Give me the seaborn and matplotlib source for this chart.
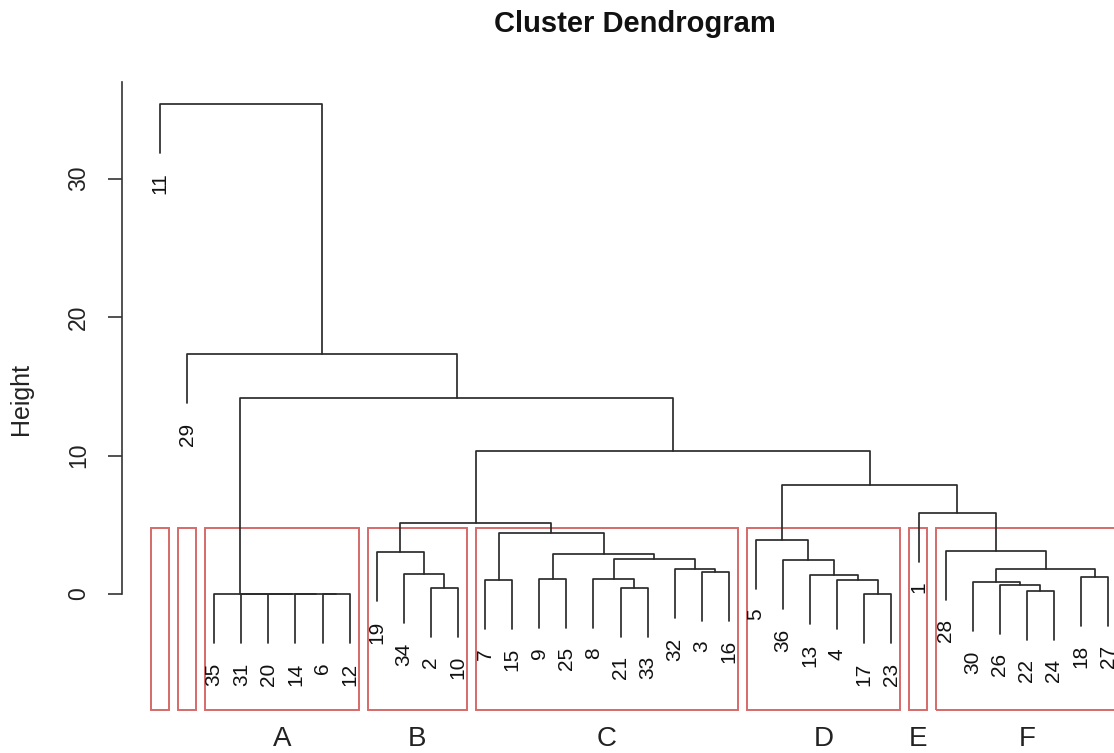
import matplotlib
matplotlib.use("Agg")
import matplotlib.pyplot as plt
import numpy as np
import pandas as pd
import seaborn as sns
from matplotlib.patches import Rectangle

# leaf labels in the order they appear along the x axis
leaf_order = [11, 29, 35, 31, 20, 14, 6, 12, 19, 34, 2, 10, 7, 15, 9, 25, 8, 21,
              33, 32, 3, 16, 5, 36, 13, 4, 17, 23, 1, 28, 30, 26, 22, 24, 18, 27]

# merge steps (R hclust convention: negative = leaf label, positive = earlier step)
merge_left = [-6, -14, -20, -31, -35, -17, -22, -2, -21, -26, -30, -4, -7, -9, -8, -18,
              -13, -34, -3, -32, 11, -36, 15, 14, -19, -28, -5, 13, 25, -1, 27, 29, 5, -29, -11]
merge_right = [-12, 1, 2, 3, 4, -23, -24, -10, -33, 7, 10, 6, -15, -25, 9, -27,
               12, 8, -16, 19, 16, 17, 20, 23, 18, 21, 22, 24, 28, 26, 30, 31, 32, 33, 34]
merge_height = [0, 0, 0, 0, 0, 0, 0.24, 0.46, 0.46, 0.68, 0.88, 1.01, 1.03, 1.12, 1.12, 1.25,
                1.37, 1.46, 1.61, 1.78, 1.82, 2.45, 2.55, 2.87, 3.01, 3.12, 3.92, 4.43, 5.10,
                5.83, 7.90, 10.30, 14.15, 17.33, 35.40]

# cut into k = 8 groups (sizes in leaf order) and their letters
cluster_sizes = [1, 1, 6, 4, 10, 6, 1, 7]
cluster_letters = ["", "", "A", "B", "C", "D", "E", "F"]

hang = 0.1 * (max(merge_height) - min(merge_height))
leaf_x = {lab: i + 1 for i, lab in enumerate(leaf_order)}

node_x = {}
segments = []
for step, (l, r, h) in enumerate(zip(merge_left, merge_right, merge_height), start=1):
    ends = []
    for c in (l, r):
        if c < 0:
            ends.append((leaf_x[-c], h - hang))
        else:
            ends.append((node_x[c], merge_height[c - 1]))
    node_x[step] = (ends[0][0] + ends[1][0]) / 2
    (x0, y0), (x1, y1) = ends
    for j, (x, y) in enumerate([(x0, y0), (x0, h), (x1, h), (x1, y1)]):
        segments.append({"seg": step, "order": j, "x": x, "y": y})
seg_df = pd.DataFrame(segments)

sns.set_theme(style="white")
plt.rcParams["font.family"] = ["Liberation Sans", "DejaVu Sans"]

fig = plt.figure(figsize=(11.14, 7.53), dpi=100)
ax = fig.add_axes([122 / 1114, 1 - 710 / 753, 992 / 1114, 628 / 753])

sns.lineplot(data=seg_df, x="x", y="y", units="seg", estimator=None, sort=False,
             color="#2b2b2b", linewidth=1.25, ax=ax)

# leaf labels hanging below each leaf
for step, (l, r, h) in enumerate(zip(merge_left, merge_right, merge_height), start=1):
    for c in (l, r):
        if c < 0:
            ax.annotate(str(-c), (leaf_x[-c], h - hang), xytext=(0, -14),
                        textcoords="offset points", rotation=90, ha="center", va="top",
                        fontsize=15, color="#111111", annotation_clip=False)

ymin, ymax = -8.375, 36.97
ax.set_xlim(-0.4027, 36.216)
ax.set_ylim(ymin, ymax)

# rectangles around the k groups
sorted_h = sorted(merge_height, reverse=True)
k = len(cluster_sizes)
top = (sorted_h[k - 2] + sorted_h[k - 1]) / 2
bounds = np.concatenate([[0], np.cumsum(cluster_sizes)])
for i, letter in enumerate(cluster_letters):
    x0 = bounds[i] + 0.66
    x1 = bounds[i + 1] + 0.33
    ax.add_patch(Rectangle((x0, ymin), x1 - x0, top - ymin, fill=False,
                           edgecolor="#d66a6a", linewidth=1.4, clip_on=False))
    if letter:
        ax.text((x0 + x1) / 2, -10.5, letter, ha="center", va="center",
                fontsize=20, color="#222222", clip_on=False)

for side in ["top", "right", "bottom"]:
    ax.spines[side].set_visible(False)
ax.spines["left"].set_bounds(0, ymax)
ax.spines["left"].set_color("#333333")
ax.spines["left"].set_linewidth(1.2)
ax.set_xticks([])
ax.set_yticks([0, 10, 20, 30])
ax.tick_params(axis="y", left=True, length=10, width=1.2, color="#333333", pad=13,
               labelsize=16.5, labelcolor="#222222")
plt.setp(ax.get_yticklabels(), rotation=90, va="center")
ax.set_xlabel("")
ax.set_ylabel("")

fig.text(21 / 1114, 1 - 399 / 753, "Height", rotation=90, ha="center", va="center",
         fontsize=18, color="#222222")
fig.text(635 / 1114, 1 - 24 / 753, "Cluster Dendrogram", ha="center", va="center",
         fontsize=21, fontweight="bold", color="#111111")

fig.savefig("out.png", dpi=100)
